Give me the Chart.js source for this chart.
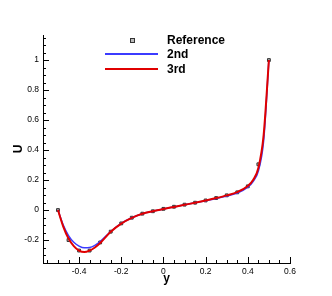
<!DOCTYPE html>
<html>
<head>
<meta charset="utf-8">
<script src="https://cdn.jsdelivr.net/npm/chart.js@4"></script>
<style>
  body { margin: 0; background: #fff; }
  #wrap { position: relative; width: 332px; height: 296px; }
  .leg { position: absolute; font: bold 12px "Liberation Sans", Arial, sans-serif; color: #000; line-height: 14px; }
  .legline { position: absolute; height: 2px; }
  .legmark { position: absolute; width: 3px; height: 3px; border: 1px solid #333; background: #bbb; }
</style>
</head>
<body>
<div id="wrap">
  <canvas id="uChart" width="332" height="296"></canvas>
  <div class="legmark" style="left:130px; top:38px;"></div>
  <div class="leg" style="left:167px; top:33px;">Reference</div>
  <div class="legline" style="left:105px; top:53px; width:53px; background:#3b3bff;"></div>
  <div class="leg" style="left:167px; top:47px;">2nd</div>
  <div class="legline" style="left:105px; top:68px; width:53px; background:#e00000;"></div>
  <div class="leg" style="left:167px; top:62px;">3rd</div>
</div>
<script>
// reference points (squares)
const refY = [-0.5, -0.45, -0.4, -0.35, -0.3, -0.25, -0.2, -0.15, -0.1, -0.05, 0, 0.05, 0.1, 0.15, 0.2, 0.25, 0.3, 0.35, 0.4, 0.45, 0.5];
const refU = [0, -0.2, -0.27, -0.27, -0.216, -0.144, -0.089, -0.051, -0.024, -0.008, 0.008, 0.022, 0.036, 0.049, 0.064, 0.08, 0.098, 0.118, 0.158, 0.305, 1.0];

// 2nd and 3rd order solutions
const lineY = [-0.5, -0.475, -0.45, -0.425, -0.4, -0.375, -0.35, -0.325, -0.3, -0.25, -0.2, -0.15, -0.1, -0.05, 0, 0.05, 0.1, 0.15, 0.2, 0.25, 0.3, 0.35, 0.4, 0.425, 0.45, 0.475, 0.5];
const u2nd = [0, -0.1, -0.17, -0.215, -0.24, -0.252, -0.25, -0.235, -0.21, -0.143, -0.089, -0.051, -0.025, -0.008, 0.007, 0.021, 0.035, 0.048, 0.062, 0.077, 0.094, 0.113, 0.152, 0.19, 0.26, 0.46, 1.0];
const u3rd = [0, -0.11, -0.19, -0.24, -0.27, -0.28, -0.27, -0.25, -0.22, -0.145, -0.09, -0.052, -0.025, -0.008, 0.007, 0.021, 0.035, 0.049, 0.064, 0.08, 0.098, 0.12, 0.16, 0.2, 0.28, 0.5, 1.0];

const xTicks = [-0.4, -0.2, 0, 0.2, 0.4, 0.6];
const yTicks = [-0.2, 0, 0.2, 0.4, 0.6, 0.8, 1];

function pts(xs, ys) {
    return xs.map(function(x, i) { return { x: x, y: ys[i] }; });
}

function fmt(v) {
    return String(Math.round(v * 10) / 10);
}

// tecplot-style inward ticks, major + minor
const inwardTicks = {
    id: 'inwardTicks',
    afterDatasetsDraw: function(chart) {
        const ctx = chart.ctx;
        const xs = chart.scales.x, ys = chart.scales.y;
        const area = chart.chartArea;
        ctx.save();
        ctx.strokeStyle = '#000';
        ctx.lineWidth = 1;
        for (let k = -12; k <= 12; k++) {
            const v = k * 0.05;
            if (v < xs.min - 1e-9 || v > xs.max + 1e-9) continue;
            const px = Math.round(xs.getPixelForValue(v)) + 0.5;
            const len = (k % 4 === 0) ? 6 : 3;
            ctx.beginPath();
            ctx.moveTo(px, area.bottom);
            ctx.lineTo(px, area.bottom - len);
            ctx.stroke();
        }
        for (let k = -8; k <= 24; k++) {
            const v = k * 0.05;
            if (v < ys.min - 1e-9 || v > ys.max + 1e-9) continue;
            const py = Math.round(ys.getPixelForValue(v)) + 0.5;
            const len = (k % 4 === 0) ? 6 : 3;
            ctx.beginPath();
            ctx.moveTo(area.left, py);
            ctx.lineTo(area.left + len, py);
            ctx.stroke();
        }
        ctx.restore();
    }
};

document.addEventListener('DOMContentLoaded', function() {
    const ctx = document.getElementById('uChart').getContext('2d');
    const tickFont = { family: '"Liberation Sans", Arial, sans-serif', size: 8.5 };
    const titleFont = { family: '"Liberation Sans", Arial, sans-serif', size: 12, weight: 'bold' };

    new Chart(ctx, {
        type: 'scatter',
        data: {
            datasets: [
                {
                    label: '3rd',
                    data: pts(lineY, u3rd),
                    showLine: true,
                    borderColor: '#e00000',
                    borderWidth: 2,
                    pointRadius: 0,
                    cubicInterpolationMode: 'monotone',
                    order: 1
                },
                {
                    label: '2nd',
                    data: pts(lineY, u2nd),
                    showLine: true,
                    borderColor: '#3b3bff',
                    borderWidth: 1.5,
                    pointRadius: 0,
                    cubicInterpolationMode: 'monotone',
                    order: 2
                },
                {
                    label: 'Reference',
                    data: pts(refY, refU),
                    pointStyle: 'rect',
                    pointRadius: 2,
                    borderColor: '#333',
                    backgroundColor: '#aaa',
                    borderWidth: 1,
                    order: 3
                }
            ]
        },
        options: {
            responsive: false,
            animation: false,
            layout: { padding: { top: 35, right: 42, left: 0, bottom: 0 } },
            plugins: { legend: { display: false }, tooltip: { enabled: false } },
            scales: {
                x: {
                    type: 'linear',
                    min: -0.571,
                    max: 0.6,
                    afterFit: function(s) { s.height = 33; },
                    afterBuildTicks: function(s) { s.ticks = xTicks.map(function(v) { return { value: v }; }); },
                    grid: { display: false, drawTicks: false },
                    border: { display: true, color: '#000', width: 1 },
                    ticks: { color: '#000', font: tickFont, padding: 4, maxRotation: 0, callback: fmt },
                    title: { display: true, text: 'y', color: '#000', font: titleFont, padding: { top: 0, bottom: 10 } }
                },
                y: {
                    type: 'linear',
                    min: -0.353,
                    max: 1.167,
                    afterFit: function(s) { s.width = 43; },
                    afterBuildTicks: function(s) { s.ticks = yTicks.map(function(v) { return { value: v }; }); },
                    grid: { display: false, drawTicks: false },
                    border: { display: true, color: '#000', width: 1 },
                    ticks: { color: '#000', font: tickFont, padding: 4, callback: fmt },
                    title: { display: true, text: 'U', color: '#000', font: titleFont, padding: { top: 11, bottom: 0 } }
                }
            }
        },
        plugins: [inwardTicks]
    });
});
</script>
</body>
</html>
